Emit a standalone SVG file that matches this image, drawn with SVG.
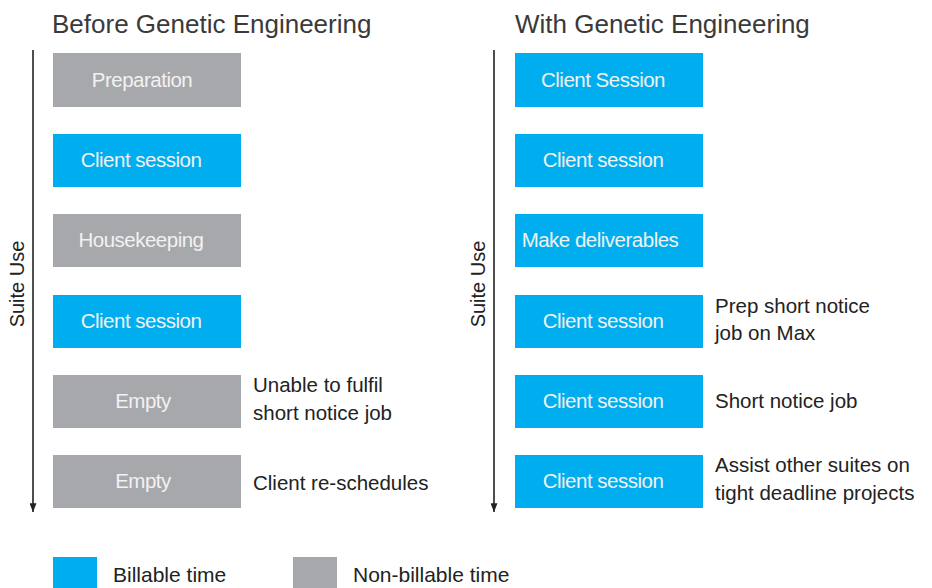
<svg xmlns="http://www.w3.org/2000/svg" width="932" height="588" viewBox="0 0 932 588">
  <defs>
    <marker id="arrow" viewBox="0 0 10 8" refX="10" refY="4" markerWidth="10" markerHeight="7" orient="auto" markerUnits="userSpaceOnUse">
      <path d="M0,0 L10,4 L0,8 Z" fill="#222"/>
    </marker>
    <style>
      text { font-family: "Liberation Sans", Arial, sans-serif; }
      .title { font-size: 26px; fill: #3a3a3a; }
      .bill { fill: #00aeef; }
      .nonbill { fill: #a7a8ab; }
      .box-label { font-size: 20.5px; fill: #f2f2f2; text-anchor: middle; letter-spacing: -0.5px; }
      .note { font-size: 20.5px; fill: #222; }
      .legend-label { font-size: 21px; fill: #222; }
      .axis { stroke: #222; stroke-width: 1.6; fill: none; }
      .axis-label { font-size: 20px; fill: #222; text-anchor: middle; }
    </style>
  </defs>

  <rect width="932" height="588" fill="#ffffff"/>

  <!-- column headings -->
  <text class="title" x="52" y="33">Before Genetic Engineering</text>
  <text class="title" x="515" y="33">With Genetic Engineering</text>

  <!-- time axes -->
  <g id="connectors">
    <line class="axis" x1="33" y1="50" x2="33" y2="512" marker-end="url(#arrow)"/>
    <line class="axis" x1="494" y1="50" x2="494" y2="512" marker-end="url(#arrow)"/>
  </g>
  <text class="axis-label" transform="translate(24,284) rotate(-90)">Suite Use</text>
  <text class="axis-label" transform="translate(485,284) rotate(-90)">Suite Use</text>

  <!-- before: schedule blocks -->
  <g id="before-preparation">
    <rect class="nonbill" x="53" y="53" width="188" height="54"/>
    <text class="box-label" x="142" y="87">Preparation</text>
  </g>
  <g id="before-client-session-1">
    <rect class="bill" x="53" y="134" width="188" height="53"/>
    <text class="box-label" x="141" y="167">Client session</text>
  </g>
  <g id="before-housekeeping">
    <rect class="nonbill" x="53" y="214" width="188" height="53"/>
    <text class="box-label" x="141" y="247">Housekeeping</text>
  </g>
  <g id="before-client-session-2">
    <rect class="bill" x="53" y="295" width="188" height="53"/>
    <text class="box-label" x="141" y="328">Client session</text>
  </g>
  <g id="before-empty-1">
    <rect class="nonbill" x="53" y="375" width="188" height="53"/>
    <text class="box-label" x="143" y="408">Empty</text>
    <text class="note" x="253" y="392">Unable to fulfil</text>
    <text class="note" x="253" y="420">short notice job</text>
  </g>
  <g id="before-empty-2">
    <rect class="nonbill" x="53" y="455" width="188" height="53"/>
    <text class="box-label" x="143" y="488">Empty</text>
    <text class="note" x="253" y="490">Client re-schedules</text>
  </g>

  <!-- with: schedule blocks -->
  <g id="with-client-session-1">
    <rect class="bill" x="515" y="53" width="188" height="54"/>
    <text class="box-label" x="603" y="87">Client Session</text>
  </g>
  <g id="with-client-session-2">
    <rect class="bill" x="515" y="134" width="188" height="53"/>
    <text class="box-label" x="603" y="167">Client session</text>
  </g>
  <g id="with-make-deliverables">
    <rect class="bill" x="515" y="214" width="188" height="53"/>
    <text class="box-label" x="600" y="247">Make deliverables</text>
  </g>
  <g id="with-client-session-3">
    <rect class="bill" x="515" y="295" width="188" height="53"/>
    <text class="box-label" x="603" y="328">Client session</text>
    <text class="note" x="715" y="313">Prep short notice</text>
    <text class="note" x="715" y="340">job on Max</text>
  </g>
  <g id="with-client-session-4">
    <rect class="bill" x="515" y="375" width="188" height="53"/>
    <text class="box-label" x="603" y="408">Client session</text>
    <text class="note" x="715" y="408">Short notice job</text>
  </g>
  <g id="with-client-session-5">
    <rect class="bill" x="515" y="455" width="188" height="53"/>
    <text class="box-label" x="603" y="488">Client session</text>
    <text class="note" x="715" y="472">Assist other suites on</text>
    <text class="note" x="715" y="500">tight deadline projects</text>
  </g>

  <!-- legend -->
  <g id="legend">
    <rect class="bill" x="53" y="557" width="44" height="31"/>
    <text class="legend-label" x="113" y="582">Billable time</text>
    <rect class="nonbill" x="293" y="557" width="44" height="31"/>
    <text class="legend-label" x="353" y="582">Non-billable time</text>
  </g>
</svg>
